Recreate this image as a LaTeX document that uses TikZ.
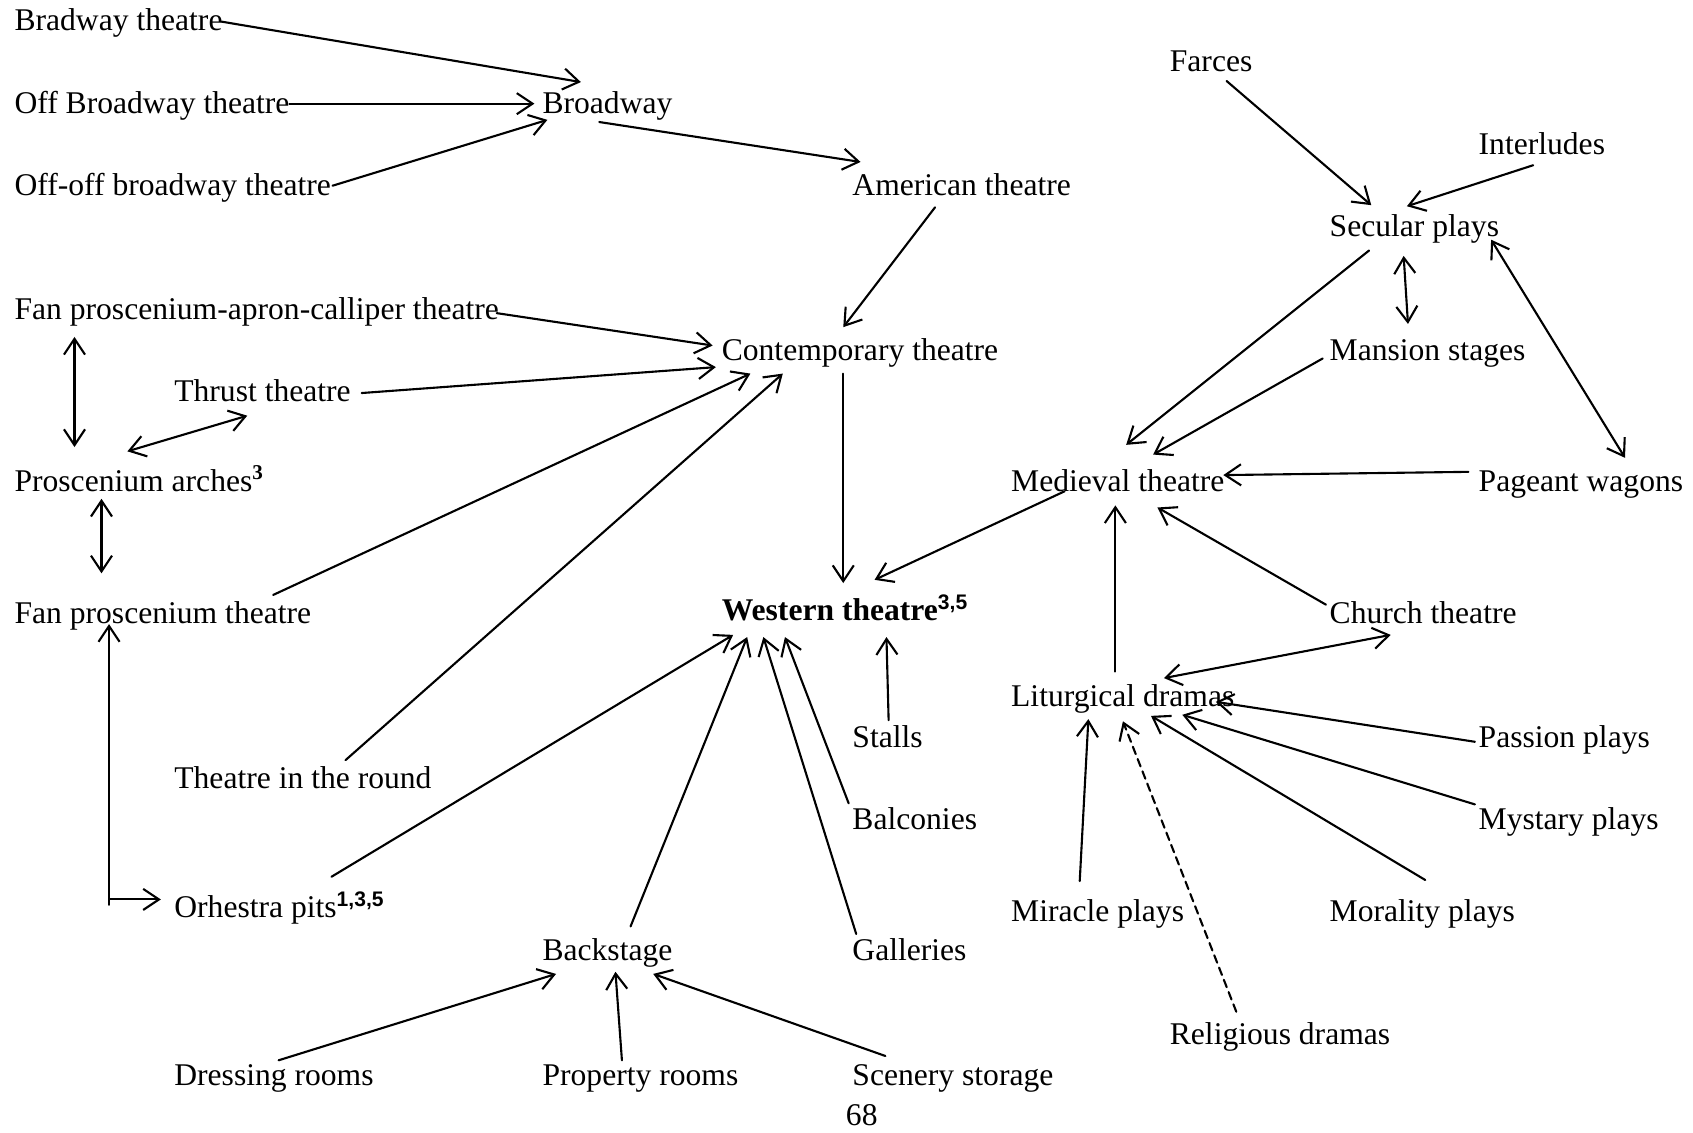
\documentclass[12pt,tikz,border=0pt]{standalone}
\usepackage{fontspec}
\setmainfont{Liberation Serif}
\setsansfont{Liberation Sans}
\usetikzlibrary{arrows.meta}
\tikzset{
  term/.style={anchor=base west,inner sep=0pt},
  link/.style={line width=0.8pt,-{Straight Barb[length=6pt,width=8pt]}},
  twoway/.style={line width=0.8pt,{Straight Barb[length=6pt,width=8pt]}-{Straight Barb[length=6pt,width=8pt]}},
}
\newcommand{\supsf}[1]{\textsuperscript{\sffamily\bfseries #1}}

\begin{document}
\begin{tikzpicture}[x=0.41pt,y=-0.41pt,line cap=round,line join=round]
  \useasboundingbox (0,0) rectangle (1568,1049);
  % Broadway branch
  \node[term] (brad) at (13,28) {Bradway theatre};
  \node[term] (offb) at (13,105) {Off Broadway theatre};
  \node[term] (offoff) at (13,181) {Off-off broadway theatre};
  \node[term] (broad) at (502,105) {Broadway};
  \node[term] (amer) at (789,181) {American theatre};
  % contemporary branch
  \node[term] (fpac) at (13,296) {Fan proscenium-apron-calliper theatre};
  \node[term] (contemp) at (668,334) {Contemporary theatre};
  \node[term] (thrust) at (161,372) {Thrust theatre};
  \node[term] (parch) at (13,455) {Proscenium arches\textsuperscript{\bfseries 3}};
  \node[term] (fpt) at (13,577) {Fan proscenium theatre};
  \node[term] (round) at (161,730) {Theatre in the round};
  \node[term] (orch) at (161,850) {Orhestra pits\supsf{1,3,5}};
  % western theatre and its parts
  \node[term] (western) at (668,575) {\textbf{Western theatre}\supsf{3,5}};
  \node[term] (stalls) at (789,692) {Stalls};
  \node[term] (balc) at (789,768) {Balconies};
  \node[term] (gall) at (789,890) {Galleries};
  \node[term] (back) at (502,890) {Backstage};
  \node[term] (dress) at (161,1005) {Dressing rooms};
  \node[term] (prop) at (502,1005) {Property rooms};
  \node[term] (scen) at (789,1005) {Scenery storage};
  % medieval branch
  \node[term] (farces) at (1083,66) {Farces};
  \node[term] (inter) at (1369,143) {Interludes};
  \node[term] (secular) at (1231,219) {Secular plays};
  \node[term] (mansion) at (1231,334) {Mansion stages};
  \node[term] (medieval) at (936,455) {Medieval theatre};
  \node[term] (pageant) at (1369,455) {Pageant wagons};
  \node[term] (church) at (1231,577) {Church theatre};
  \node[term] (litur) at (936,654) {Liturgical dramas};
  \node[term] (passion) at (1369,692) {Passion plays};
  \node[term] (mystary) at (1369,768) {Mystary plays};
  \node[term] (miracle) at (936,853) {Miracle plays};
  \node[term] (morality) at (1231,853) {Morality plays};
  \node[term] (relig) at (1083,967) {Religious dramas};
  \node[term] (page) at (783,1042) {68};

  \draw[link] ([shift={(192,-8)}]brad.base west) -- ([shift={(36,-29)}]broad.base west);
  \draw[link] ([shift={(255,-9)}]offb.base west) -- ([shift={(-7,-9)}]broad.base west);
  \draw[link] ([shift={(295,-9)}]offoff.base west) -- ([shift={(5,6)}]broad.base west);
  \draw[link] ([shift={(53,8)}]broad.base west) -- ([shift={(8,-31)}]amer.base west);
  \draw[link] ([shift={(77,11)}]amer.base west) -- ([shift={(113,-31)}]contemp.base west);
  \draw[link] ([shift={(447,-6)}]fpac.base west) -- ([shift={(-8,-14)}]contemp.base west);
  \draw[link] ([shift={(174,-8)}]thrust.base west) -- ([shift={(-5,6)}]contemp.base west);
  \draw[link] ([shift={(240,-26)}]fpt.base west) -- ([shift={(27,12)}]contemp.base west);
  \draw[link] ([shift={(159,-26)}]round.base west) -- ([shift={(57,12)}]contemp.base west);
  \draw[link] ([shift={(113,12)}]contemp.base west) -- ([shift={(113,-35)}]western.base west);
  \draw[twoway] ([shift={(56,16)}]fpac.base west) -- ([shift={(56,-41)}]parch.base west);
  \draw[twoway] ([shift={(105,-37)}]parch.base west) -- ([shift={(68,13)}]thrust.base west);
  \draw[twoway] ([shift={(81,7)}]parch.base west) -- ([shift={(81,-46)}]fpt.base west);
  \draw[link] ([shift={(-60,-12)}]orch.base west) -- ([shift={(88,1)}]fpt.base west);
  \draw[link] ([shift={(-60,-17)}]orch.base west) -- ([shift={(-12,-17)}]orch.base west);
  % into western theatre
  \draw[link] ([shift={(146,-38)}]orch.base west) -- ([shift={(11,13)}]western.base west);
  \draw[link] ([shift={(82,-32)}]back.base west) -- ([shift={(24,15)}]western.base west);
  \draw[link] ([shift={(4,-25)}]gall.base west) -- ([shift={(39,15)}]western.base west);
  \draw[link] ([shift={(-3,-24)}]balc.base west) -- ([shift={(59,15)}]western.base west);
  \draw[link] ([shift={(34,-25)}]stalls.base west) -- ([shift={(153,15)}]western.base west);
  \draw[link] ([shift={(50,0)}]medieval.base west) -- ([shift={(142,-38)}]western.base west);
  \draw[link] ([shift={(97,-23)}]dress.base west) -- ([shift={(13,12)}]back.base west);
  \draw[link] ([shift={(74,-23)}]prop.base west) -- ([shift={(68,10)}]back.base west);
  \draw[link] ([shift={(31,-27)}]scen.base west) -- ([shift={(103,12)}]back.base west);
  % medieval side
  \draw[link] ([shift={(53,9)}]farces.base west) -- ([shift={(39,-29)}]secular.base west);
  \draw[link] ([shift={(51,10)}]inter.base west) -- ([shift={(72,-28)}]secular.base west);
  \draw[link] ([shift={(37,13)}]secular.base west) -- ([shift={(107,-43)}]medieval.base west);
  \draw[twoway] ([shift={(69,18)}]secular.base west) -- ([shift={(73,-34)}]mansion.base west);
  \draw[twoway] ([shift={(150,3)}]secular.base west) -- ([shift={(136,-31)}]pageant.base west);
  \draw[link] ([shift={(-6,-2)}]mansion.base west) -- ([shift={(132,-34)}]medieval.base west);
  \draw[link] ([shift={(-9,-18)}]pageant.base west) -- ([shift={(197,-15)}]medieval.base west);
  \draw[link] ([shift={(97,-32)}]litur.base west) -- ([shift={(97,13)}]medieval.base west);
  \draw[link] ([shift={(-3,-17)}]church.base west) -- ([shift={(136,15)}]medieval.base west);
  \draw[twoway] ([shift={(142,-26)}]litur.base west) -- ([shift={(57,11)}]church.base west);
  \draw[link] ([shift={(-3,-5)}]passion.base west) -- ([shift={(190,-4)}]litur.base west);
  \draw[link] ([shift={(-3,-23)}]mystary.base west) -- ([shift={(159,8)}]litur.base west);
  \draw[link] ([shift={(89,-38)}]morality.base west) -- ([shift={(130,9)}]litur.base west);
  \draw[link] ([shift={(64,-37)}]miracle.base west) -- ([shift={(72,12)}]litur.base west);
  \draw[link,dash pattern=on 3pt off 2pt] ([shift={(62,-30)}]relig.base west) -- ([shift={(104,14)}]litur.base west);
\end{tikzpicture}
\end{document}
